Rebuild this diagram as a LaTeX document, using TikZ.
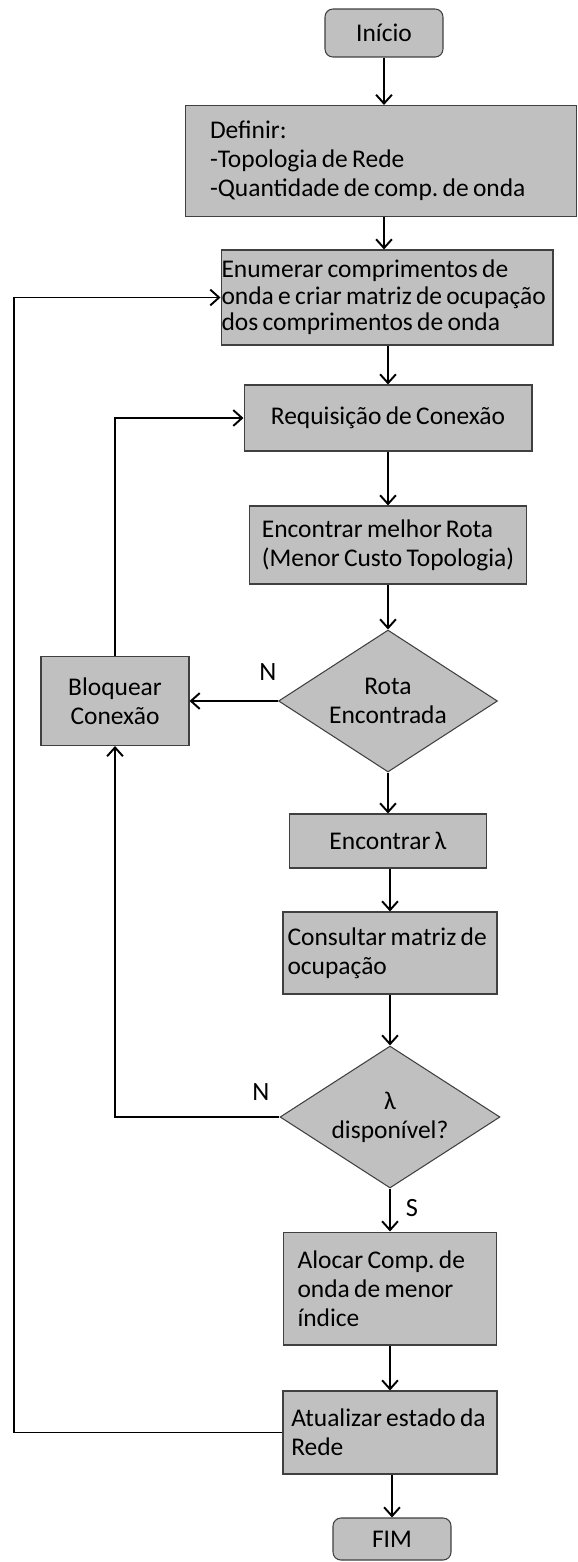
\documentclass[tikz,border=0pt]{standalone}
\usepackage{fontspec}
\setmainfont{Carlito}[WordSpace={0.75,0.5,0.5}]
\usepackage{xcolor}
\usepackage{tikz}
\usetikzlibrary{arrows.meta,shapes.geometric}

\definecolor{boxgray}{RGB}{192,192,192}
\definecolor{edgegray}{RGB}{64,64,64}
\frenchspacing

\begin{document}
\begin{tikzpicture}[x=0.02cm, y=-0.02cm,
  font=\fontsize{14.5}{16.5}\selectfont,
  pr/.style={draw=edgegray, fill=boxgray, line width=0.6pt, inner sep=0pt, align=center},
  pl/.style={pr, align=flush left},
  te/.style={pr, rounded corners=4.5pt},
  de/.style={pr, diamond, aspect=1.54},
  arr/.style={-{Straight Barb[length=5pt, width=9pt]}, line width=1.1pt},
  lab/.style={font=\fontsize{15}{18}\selectfont}]

\useasboundingbox (0,0) rectangle (578,1562);

\node[te] (ini) at (384,33) [minimum width=2.36cm, minimum height=0.96cm] {Início};
\node[pl] (def) at (381,161) [minimum width=7.84cm, minimum height=2.22cm, text width=6.84cm]
  {Definir:\\-Topologia de Rede\\-Quantidade de comp. de onda};
\node[pl] (enu) at (387,297.5) [minimum width=6.64cm, minimum height=1.9cm, text width=6.62cm,
  font=\fontsize{14.5}{15}\selectfont]
  {Enumerar comprimentos de\\onda e criar matriz de ocupação\\dos comprimentos de onda};
\node[pr] (req) at (388,418) [minimum width=5.76cm, minimum height=1.32cm] {Requisição de Conexão};
\node[pl] (rot) at (388,545) [minimum width=5.54cm, minimum height=1.56cm]
  {Encontrar melhor Rota\\(Menor Custo Topologia)};
\node[de] (rd) at (388,701) [minimum width=4.38cm, minimum height=2.84cm] {Rota\\Encontrada};
\node[pr] (blq) at (115,701) [minimum width=2.96cm, minimum height=1.78cm] {Bloquear\\Conexão};
\node[pr] (lam) at (388,841) [minimum width=3.94cm, minimum height=1.08cm] {Encontrar λ};
\node[pl] (cns) at (390,953) [minimum width=4.28cm, minimum height=1.64cm, text width=4.1cm]
  {Consultar matriz de\\ocupação};
\node[de] (ld) at (390,1117) [minimum width=4.4cm, minimum height=2.84cm] {λ\\disponível?};
\node[pl] (alo) at (390,1288.5) [minimum width=4.26cm, minimum height=2.26cm, text width=3.7cm]
  {Alocar Comp. de\\onda de menor\\índice};
\node[pl] (atu) at (390,1432.5) [minimum width=4.28cm, minimum height=1.66cm, text width=3.95cm]
  {Atualizar estado da\\Rede};
\node[te] (fim) at (392,1539) [minimum width=2.36cm, minimum height=0.84cm] {FIM};

\node[lab] (nr) at (268,672) {N};
\node[lab] (nl) at (261,1092) {N};
\node[lab] (sl) at (412,1208) {S};

\coordinate (back) at (14,1432.5);

\draw[arr] (ini) -- (ini |- def.north);
\draw[arr] (ini |- def.south) -- (ini |- enu.north);
\draw[arr] (enu.south -| req) -- (req);
\draw[arr] (req) -- (rot);
\draw[arr] (rot) -- (rd);
\draw[arr] (rd) -- (blq);
\draw[arr] (blq.north) |- (req.west);
\draw[arr] (rd) -- (rd |- lam.north);
\draw[arr] (lam.south -| cns) -- (cns);
\draw[arr] (cns) -- (ld);
\draw[arr] (ld.west) -| (blq.south);
\draw[arr] (ld) -- (alo);
\draw[arr] (alo) -- (atu);
\draw[arr] (atu.south -| fim) -- (fim);
\draw[arr] (atu.west) -- (back) |- (enu.west);
\end{tikzpicture}
\end{document}
